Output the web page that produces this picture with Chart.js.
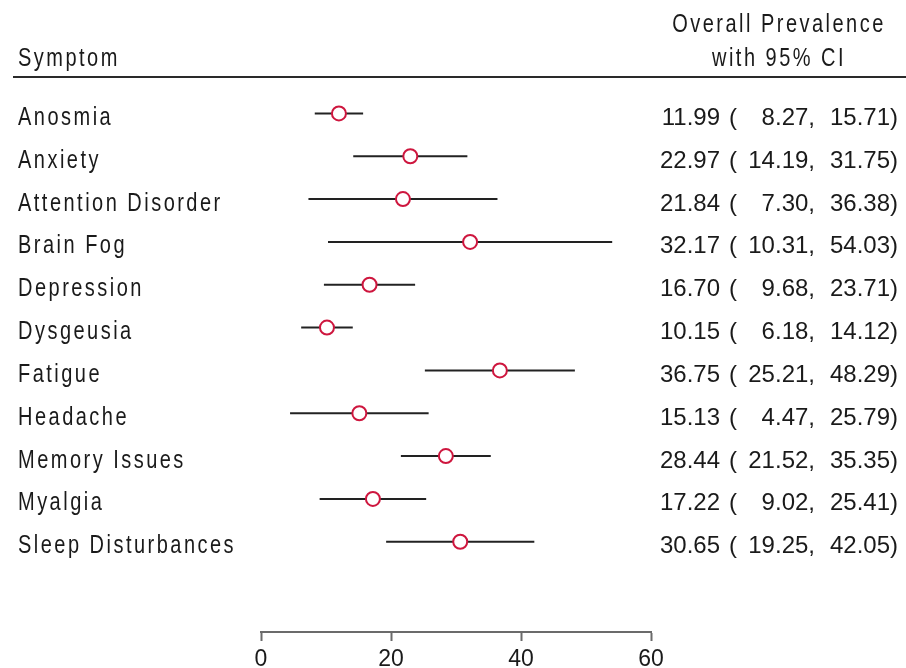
<!DOCTYPE html>
<html>
<head>
<meta charset="utf-8">
<script src="https://cdn.jsdelivr.net/npm/chart.js@4/dist/chart.umd.min.js"></script>
<style>
  html, body { margin: 0; padding: 0; background: #fff; overflow: hidden; }
  canvas { display: block; }
</style>
</head>
<body>
<canvas id="forest" width="906" height="668"></canvas>
<script>
// Symptoms and pooled prevalence (%) with 95% confidence limits
const symptoms = [
  'Anosmia', 'Anxiety', 'Attention Disorder', 'Brain Fog', 'Depression',
  'Dysgeusia', 'Fatigue', 'Headache', 'Memory Issues', 'Myalgia',
  'Sleep Disturbances'
];
const prevalence = [11.99, 22.97, 21.84, 32.17, 16.70, 10.15, 36.75, 15.13, 28.44, 17.22, 30.65];
const lowerCI    = [ 8.27, 14.19,  7.30, 10.31,  9.68,  6.18, 25.21,  4.47, 21.52,  9.02, 19.25];
const upperCI    = [15.71, 31.75, 36.38, 54.03, 23.71, 14.12, 48.29, 25.79, 35.35, 25.41, 42.05];
const xTicks     = [0, 20, 40, 60];

const leftHeader  = 'Symptom';
const rightHeader = ['Overall Prevalence', 'with 95% CI'];

const FONT = '"Liberation Sans", Arial, Helvetica, sans-serif';
const MARK_COLOR = 'rgb(206, 22, 62)';
const TEXT_COLOR = '#1a1a1a';

// condensed, letter-spaced label text
function drawSpaced(ctx, text, x, y, align) {
  ctx.save();
  ctx.translate(x, y);
  ctx.scale(0.8, 1);
  ctx.font = '25px ' + FONT;
  ctx.letterSpacing = '3.1px';
  ctx.textAlign = align;
  ctx.textBaseline = 'alphabetic';
  ctx.fillStyle = TEXT_COLOR;
  ctx.fillText(text, 0, 0);
  ctx.restore();
}

// plain numeric text for the estimate column
function drawNumber(ctx, text, x, y, align) {
  ctx.save();
  ctx.font = '24px ' + FONT;
  ctx.letterSpacing = '0px';
  ctx.textAlign = align;
  ctx.textBaseline = 'alphabetic';
  ctx.fillStyle = TEXT_COLOR;
  ctx.fillText(text, x, y);
  ctx.restore();
}

const tablePlugin = {
  id: 'forestTable',
  afterDraw(chart) {
    const ctx = chart.ctx;
    const yScale = chart.scales.y;

    // header
    drawSpaced(ctx, leftHeader, 18, 66, 'left');
    drawSpaced(ctx, rightHeader[0], 779, 32, 'center');
    drawSpaced(ctx, rightHeader[1], 779, 66, 'center');

    ctx.save();
    ctx.strokeStyle = '#2a2a2a';
    ctx.lineWidth = 2;
    ctx.beginPath();
    ctx.moveTo(13, 77);
    ctx.lineTo(906, 77);
    ctx.stroke();
    ctx.restore();

    // rows: symptom name, then "est ( lo, hi)" in aligned columns
    symptoms.forEach((name, i) => {
      const y = yScale.getPixelForValue(i) + 11.5;
      drawSpaced(ctx, name, 18, y, 'left');
      drawNumber(ctx, prevalence[i].toFixed(2), 720, y, 'right');
      drawNumber(ctx, '(', 729, y, 'left');
      drawNumber(ctx, lowerCI[i].toFixed(2) + ',', 815, y, 'right');
      drawNumber(ctx, upperCI[i].toFixed(2) + ')', 898, y, 'right');
    });
  }
};

// one line segment per confidence interval
const ciDatasets = symptoms.map((name, i) => ({
  type: 'line',
  label: name + ' CI',
  data: [{ x: lowerCI[i], y: i }, { x: upperCI[i], y: i }],
  borderColor: '#222222',
  borderWidth: 2,
  pointRadius: 0,
  fill: false,
  order: 2
}));

const pointDataset = {
  type: 'scatter',
  label: 'Prevalence',
  data: prevalence.map((v, i) => ({ x: v, y: i })),
  pointStyle: 'circle',
  pointRadius: 7,
  pointBorderWidth: 2,
  borderColor: MARK_COLOR,
  backgroundColor: '#ffffff',
  order: 1
};

new Chart(document.getElementById('forest'), {
  type: 'scatter',
  data: { datasets: [pointDataset, ...ciDatasets] },
  options: {
    responsive: false,
    animation: false,
    events: [],
    layout: { padding: { left: 261, right: 255, top: 92, bottom: 0 } },
    plugins: { legend: { display: false }, tooltip: { enabled: false } },
    scales: {
      x: {
        type: 'linear',
        min: xTicks[0],
        max: xTicks[xTicks.length - 1],
        afterBuildTicks: (scale) => { scale.ticks = xTicks.map(v => ({ value: v })); },
        afterFit: (scale) => { scale.height = 36; },
        ticks: {
          font: { family: FONT, size: 23 },
          color: TEXT_COLOR,
          padding: 5,
          maxRotation: 0
        },
        grid: {
          display: true,
          drawOnChartArea: false,
          drawTicks: true,
          tickLength: 9,
          tickColor: '#6b6b6b',
          tickWidth: 2
        },
        border: { display: true, color: '#6b6b6b', width: 2 }
      },
      y: {
        type: 'linear',
        display: false,
        reverse: true,
        min: -0.5,
        max: 12.107
      }
    }
  },
  plugins: [tablePlugin]
});
</script>
</body>
</html>
